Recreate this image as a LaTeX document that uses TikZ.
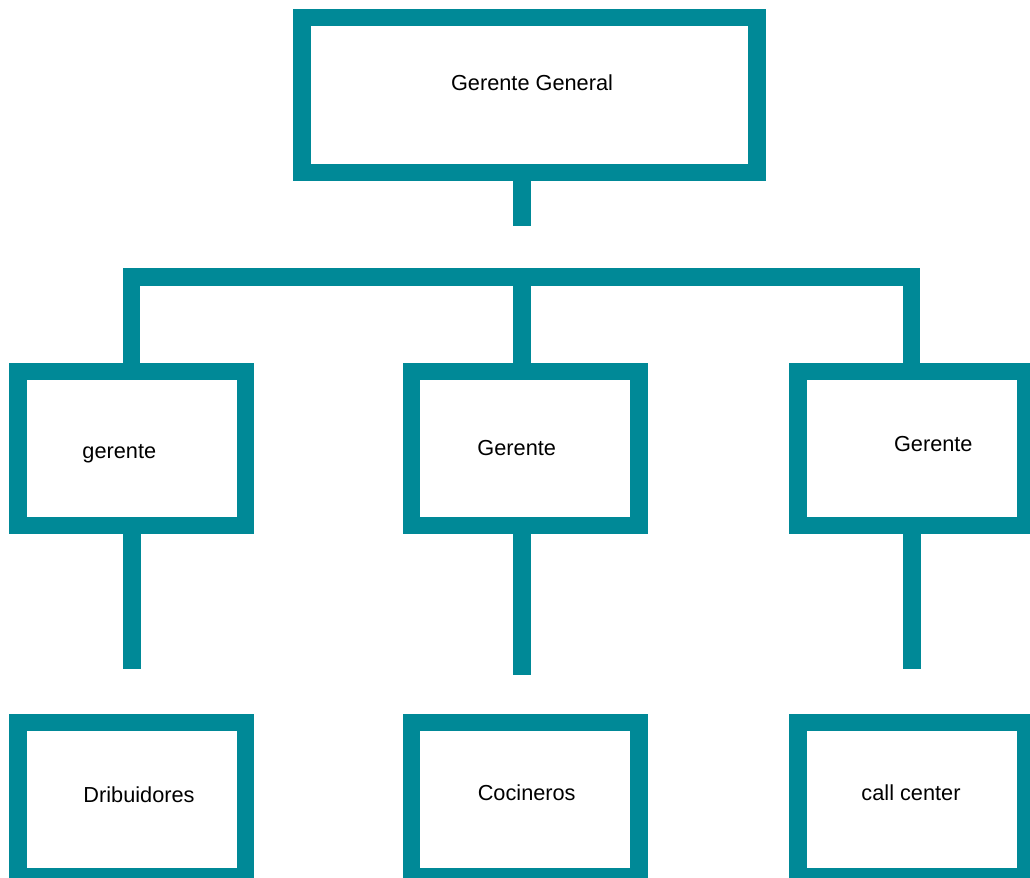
\documentclass[tikz,border=0pt]{standalone}
\usepackage{fontspec}
\setmainfont{Liberation Sans}
\usepackage{xcolor}
\usetikzlibrary{positioning}
\definecolor{OrgTeal}{RGB}{0,137,151}

\begin{document}
\begin{tikzpicture}[
          x=0.75pt, y=-0.75pt,
          box/.style={rectangle, draw=OrgTeal, fill=white, line width=13pt, inner sep=0pt, minimum width=170.6pt, minimum height=115.5pt},
          bigbox/.style={box, minimum width=341.25pt, minimum height=116pt},
          link/.style={OrgTeal, line width=13pt, line join=miter},
          label/.style={anchor=base, font=\fontsize{16.3}{19}\selectfont}
        ]
          \clip (0,0) rectangle (1030,877);

          % top
          \node (top) [bigbox] at (529.5,95) {};
          \node (ttop) [label] at (532,90.7) {Gerente General};
          \coordinate (stubend) at (522,225.7);
          \draw[link] (stubend |- top.south) -- (stubend);

          % managers
          \node (m1) [box] at (131.8,448.5) {};
          \node (m2) [box] at (525.2,448.5) {};
          \node (m3) [box] at (911.8,448.5) {};
          \node (tm1) [label] at (119.3,458.3) {gerente};
          \node (tm2) [label] at (516.7,455.3) {Gerente};
          \node (tm3) [label] at (933.3,451.7) {Gerente};

          \coordinate (bar) at (522,277);
          \draw[link] (m1.north) |- (bar) -| (m3.north);
          \draw[link] (bar) -- (bar |- m2.north);

          % staff
          \node (s1) [box] at (131.8,799.2) {};
          \node (s2) [box] at (525.2,799.2) {};
          \node (s3) [box] at (911.8,799.2) {};
          \node (ts1) [label] at (139,802.7) {Dribuidores};
          \node (ts2) [label] at (526.7,800) {Cocineros};
          \node (ts3) [label] at (911,800) {call center};

          \coordinate (d1) at (132,669.3);
          \coordinate (d2) at (522,675);
          \coordinate (d3) at (912,669.3);
          \draw[link] (d1 |- m1.south) -- (d1);
          \draw[link] (d2 |- m2.south) -- (d2);
          \draw[link] (d3 |- m3.south) -- (d3);
        \end{tikzpicture}
\end{document}
